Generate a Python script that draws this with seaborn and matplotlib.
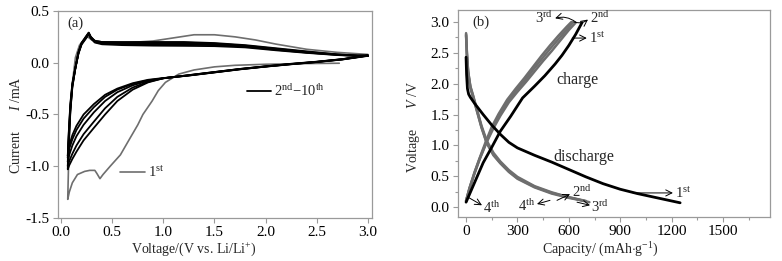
import numpy as np
import pandas as pd
import matplotlib
matplotlib.use('Agg')
import matplotlib.pyplot as plt
import seaborn as sns

#------------------------------------------------------------------------------
# DATA
#------------------------------------------------------------------------------

# (a) cyclic voltammetry: cathodic sweep grid and anodic sweep grid (V)
cv_v_dn = [3.0, 2.75, 2.5, 2.25, 2.0, 1.75, 1.5, 1.25, 1.0, 0.85, 0.7, 0.55, 0.43, 0.32, 0.22, 0.15, 0.11, 0.08, 0.065]
cv_v_up = [0.065, 0.075, 0.09, 0.11, 0.14, 0.17, 0.2, 0.24, 0.27, 0.29, 0.33, 0.4, 0.6, 0.9, 1.2, 1.5, 1.8, 2.1, 2.4, 2.7, 2.9, 3.0]

# current (mA) of a few of the 2nd-10th cycles
i_dn_2 = [0.07, 0.035, 0.01, -0.01, -0.035, -0.06, -0.09, -0.12, -0.15, -0.19, -0.26, -0.37, -0.5, -0.63, -0.75, -0.86, -0.93, -0.99, -1.03]
i_up_2 = [-1.03, -0.78, -0.48, -0.24, -0.05, 0.1, 0.19, 0.25, 0.29, 0.25, 0.21, 0.2, 0.2, 0.2, 0.2, 0.19, 0.17, 0.14, 0.11, 0.08, 0.07, 0.07]
i_dn_3 = [0.07, 0.034, 0.009, -0.012, -0.035, -0.06, -0.09, -0.12, -0.15, -0.185, -0.24, -0.33, -0.44, -0.57, -0.69, -0.8, -0.88, -0.95, -1.0]
i_up_3 = [-1.0, -0.76, -0.46, -0.23, -0.05, 0.1, 0.19, 0.245, 0.29, 0.25, 0.21, 0.2, 0.195, 0.195, 0.195, 0.185, 0.165, 0.135, 0.105, 0.08, 0.07, 0.07]
i_dn_5 = [0.07, 0.033, 0.008, -0.013, -0.036, -0.062, -0.092, -0.122, -0.15, -0.176, -0.218, -0.285, -0.37, -0.48, -0.6, -0.71, -0.8, -0.89, -0.96]
i_up_5 = [-0.96, -0.72, -0.44, -0.22, -0.05, 0.1, 0.185, 0.24, 0.285, 0.245, 0.205, 0.19, 0.185, 0.185, 0.185, 0.178, 0.16, 0.13, 0.1, 0.078, 0.068, 0.068]
i_dn_7 = [0.068, 0.032, 0.007, -0.014, -0.037, -0.063, -0.093, -0.123, -0.15, -0.17, -0.205, -0.26, -0.33, -0.43, -0.54, -0.65, -0.74, -0.83, -0.92]
i_up_7 = [-0.92, -0.69, -0.42, -0.21, -0.05, 0.09, 0.18, 0.235, 0.28, 0.24, 0.2, 0.185, 0.178, 0.175, 0.175, 0.17, 0.155, 0.125, 0.098, 0.076, 0.066, 0.066]
i_dn_10 = [0.066, 0.031, 0.006, -0.015, -0.038, -0.064, -0.094, -0.124, -0.148, -0.165, -0.198, -0.25, -0.31, -0.4, -0.5, -0.61, -0.7, -0.8, -0.9]
i_up_10 = [-0.9, -0.67, -0.4, -0.2, -0.05, 0.09, 0.175, 0.23, 0.275, 0.235, 0.195, 0.178, 0.17, 0.165, 0.163, 0.16, 0.148, 0.12, 0.095, 0.074, 0.065, 0.065]

# 1st cycle (starts at open circuit ~2.72 V)
c1_v_dn = [2.72, 2.4, 2.0, 1.7, 1.5, 1.3, 1.15, 1.02, 0.95, 0.89, 0.8, 0.75, 0.65, 0.58, 0.48, 0.41, 0.38, 0.35, 0.33, 0.28, 0.23, 0.16, 0.11, 0.08, 0.065]
c1_i_dn = [-0.005, -0.008, -0.015, -0.025, -0.04, -0.07, -0.11, -0.19, -0.27, -0.37, -0.5, -0.6, -0.77, -0.89, -1.0, -1.08, -1.12, -1.07, -1.04, -1.04, -1.05, -1.08, -1.16, -1.25, -1.32]
c1_v_up = [0.065, 0.075, 0.09, 0.11, 0.14, 0.18, 0.22, 0.26, 0.3, 0.4, 0.6, 0.9, 1.1, 1.3, 1.5, 1.7, 1.9, 2.1, 2.4, 2.7, 3.0]
c1_i_up = [-1.32, -0.9, -0.5, -0.2, 0.05, 0.17, 0.22, 0.25, 0.22, 0.2, 0.19, 0.21, 0.24, 0.27, 0.27, 0.25, 0.22, 0.18, 0.13, 0.1, 0.08]

# (b) charge / discharge, capacity (mAh/g) vs voltage (V)
dis1_cap = [0, 3, 8, 15, 25, 50, 100, 150, 200, 250, 300, 400, 500, 600, 700, 800, 900, 1000, 1100, 1200, 1250]
dis1_v = [2.43, 2.15, 1.92, 1.83, 1.78, 1.68, 1.5, 1.33, 1.18, 1.05, 0.96, 0.84, 0.73, 0.61, 0.49, 0.38, 0.29, 0.22, 0.16, 0.1, 0.07]
chg1_cap = [0, 50, 100, 150, 200, 260, 330, 400, 460, 520, 560, 600, 640, 677]
chg1_v = [0.08, 0.4, 0.72, 0.97, 1.23, 1.47, 1.77, 1.96, 2.13, 2.32, 2.46, 2.62, 2.8, 2.99]

dis2_cap = [0, 5, 12, 25, 41, 60, 90, 120, 160, 200, 250, 300, 400, 500, 600, 700]
dis2_v = [2.82, 2.5, 2.2, 1.95, 1.8, 1.6, 1.3, 1.05, 0.85, 0.72, 0.58, 0.47, 0.33, 0.23, 0.16, 0.1]
dis3_cap = [0, 5, 12, 25, 41, 60, 90, 120, 160, 200, 250, 300, 400, 500, 600, 720]
dis3_v = [2.8, 2.48, 2.2, 1.96, 1.81, 1.62, 1.32, 1.08, 0.88, 0.74, 0.6, 0.49, 0.34, 0.24, 0.16, 0.08]
dis4_cap = [0, 5, 12, 25, 41, 60, 90, 120, 160, 200, 250, 300, 400, 500, 600, 690]
dis4_v = [2.78, 2.45, 2.17, 1.93, 1.78, 1.59, 1.29, 1.04, 0.84, 0.71, 0.57, 0.46, 0.32, 0.22, 0.15, 0.1]

chg2_cap = [0, 20, 50, 80, 120, 160, 200, 250, 300, 350, 400, 450, 500, 550, 600, 640]
chg2_v = [0.1, 0.3, 0.55, 0.78, 1.05, 1.28, 1.48, 1.7, 1.87, 2.03, 2.2, 2.37, 2.53, 2.7, 2.87, 2.99]
chg3_cap = [0, 20, 50, 80, 115, 150, 190, 240, 290, 340, 390, 440, 490, 540, 590, 615]
chg3_v = [0.1, 0.31, 0.57, 0.8, 1.06, 1.3, 1.51, 1.74, 1.92, 2.09, 2.27, 2.45, 2.62, 2.78, 2.93, 3.0]
chg4_cap = [0, 20, 50, 80, 118, 155, 195, 245, 295, 345, 395, 445, 495, 545, 595, 625]
chg4_v = [0.1, 0.3, 0.56, 0.79, 1.05, 1.29, 1.5, 1.72, 1.9, 2.06, 2.24, 2.41, 2.58, 2.74, 2.9, 3.0]

#------------------------------------------------------------------------------
# STYLE
#------------------------------------------------------------------------------

sns.set_style('ticks')
plt.rcParams['font.family'] = ['Liberation Serif', 'DejaVu Serif']
plt.rcParams['mathtext.fontset'] = 'custom'
plt.rcParams['mathtext.rm'] = 'Liberation Serif'
plt.rcParams['mathtext.it'] = 'Liberation Serif:italic'
plt.rcParams['font.size'] = 11
plt.rcParams['axes.labelsize'] = 10
plt.rcParams['axes.edgecolor'] = '#9a9a9a'
plt.rcParams['xtick.color'] = '#9a9a9a'
plt.rcParams['ytick.color'] = '#9a9a9a'
plt.rcParams['xtick.labelcolor'] = 'black'
plt.rcParams['ytick.labelcolor'] = 'black'

grey = '#6e6e6e'

fig = plt.figure(figsize=(7.82, 2.61), dpi=100)
ax1 = fig.add_axes([0.0742, 0.1648, 0.4015, 0.7932])
ax2 = fig.add_axes([0.5857, 0.1686, 0.3990, 0.7931])


def curve(ax, x, y, color, lw):
    sns.lineplot(x=np.array(x), y=np.array(y), sort=False, estimator=None,
                 color=color, lw=lw, ax=ax)

#------------------------------------------------------------------------------
# (a) CV
#------------------------------------------------------------------------------

curve(ax1, c1_v_dn + c1_v_up, c1_i_dn + c1_i_up, grey, 1.2)
for dn, up in [(i_dn_2, i_up_2), (i_dn_3, i_up_3), (i_dn_5, i_up_5),
               (i_dn_7, i_up_7), (i_dn_10, i_up_10)]:
    curve(ax1, cv_v_dn + cv_v_up, dn + up, 'black', 1.3)

ax1.set_xlim(-0.03, 3.04)
ax1.set_ylim(-1.5, 0.5)
ax1.set_xticks([0.0, 0.5, 1.0, 1.5, 2.0, 2.5, 3.0])
ax1.set_yticks([-1.5, -1.0, -0.5, 0.0, 0.5])
ax1.xaxis.set_major_formatter(matplotlib.ticker.FormatStrFormatter('%.1f'))
ax1.yaxis.set_major_formatter(matplotlib.ticker.FormatStrFormatter('%.1f'))
ax1.set_xlabel('Voltage/(V vs. Li/Li$^{+}$)')
ax1.set_ylabel('Current      $I$ /mA')
ax1.xaxis.set_label_coords(0.433, -0.11)
ax1.yaxis.set_label_coords(-0.11, 0.45)
ax1.text(0.06, 0.38, '(a)', va='center', fontsize=10.5)

ax1.plot([1.82, 2.05], [-0.27, -0.27], color='black', lw=1.3)
ax1.text(2.08, -0.27, '2$^{\\rm nd}$$-$10$^{\\rm th}$', va='center', fontsize=10.5)
ax1.plot([0.58, 0.82], [-1.056, -1.056], color=grey, lw=1.2)
ax1.text(0.85, -1.056, '1$^{\\rm st}$', va='center', fontsize=10.5)

#------------------------------------------------------------------------------
# (b) charge / discharge
#------------------------------------------------------------------------------

for cap, v in [(dis2_cap, dis2_v), (dis3_cap, dis3_v), (dis4_cap, dis4_v),
               (chg2_cap, chg2_v), (chg3_cap, chg3_v), (chg4_cap, chg4_v)]:
    curve(ax2, cap, v, grey, 1.8)
curve(ax2, dis1_cap, dis1_v, 'black', 2.0)
curve(ax2, chg1_cap, chg1_v, 'black', 2.0)

ax2.set_xlim(-47, 1775)
ax2.set_ylim(-0.16, 3.195)
ax2.set_xticks([0, 300, 600, 900, 1200, 1500])
ax2.set_xticks(np.arange(150, 1800, 300), minor=True)
ax2.set_yticks([0.0, 0.5, 1.0, 1.5, 2.0, 2.5, 3.0])
ax2.set_yticks(np.arange(0.25, 3.2, 0.5), minor=True)
ax2.yaxis.set_major_formatter(matplotlib.ticker.FormatStrFormatter('%.1f'))
ax2.set_xlabel('Capacity/ (mAh$\\cdot$g$^{-1}$)')
ax2.set_ylabel('Voltage      $V$ /V')
ax2.xaxis.set_label_coords(0.455, -0.116)
ax2.yaxis.set_label_coords(-0.115, 0.435)
ax2.text(35, 3.0, '(b)', va='center', fontsize=10.5)
ax2.text(650, 2.06, 'charge', ha='center', va='center', fontsize=11.5)
ax2.text(690, 0.81, 'discharge', ha='center', va='center', fontsize=11.5)

arr = dict(arrowstyle='->', lw=0.7, color='black', shrinkA=0, shrinkB=0)
ax2.text(510, 3.06, '3$^{\\rm rd}$', ha='right', va='center', fontsize=10.5)
ax2.annotate('', xy=(520, 3.06), xytext=(640, 3.0),
             arrowprops=dict(arr, connectionstyle='arc3,rad=0.25'))
ax2.annotate('', xy=(712, 3.04), xytext=(630, 3.0),
             arrowprops=dict(arr, connectionstyle='arc3,rad=0.25'))
ax2.text(722, 3.06, '2$^{\\rm nd}$', va='center', fontsize=10.5)
ax2.annotate('', xy=(705, 2.74), xytext=(620, 2.74), arrowprops=arr)
ax2.text(720, 2.74, '1$^{\\rm st}$', va='center', fontsize=10.5)
ax2.annotate('', xy=(1208, 0.23), xytext=(975, 0.23), arrowprops=arr)
ax2.text(1222, 0.23, '1$^{\\rm st}$', va='center', fontsize=10.5)
ax2.annotate('', xy=(607, 0.21), xytext=(531, 0.11), arrowprops=arr)
ax2.text(620, 0.25, '2$^{\\rm nd}$', va='center', fontsize=10.5)
ax2.annotate('', xy=(414, 0.05), xytext=(490, 0.11), arrowprops=arr)
ax2.text(405, 0.02, '4$^{\\rm th}$', ha='right', va='center', fontsize=10.5)
ax2.annotate('', xy=(724, 0.03), xytext=(648, 0.08), arrowprops=arr)
ax2.text(730, 0.0, '3$^{\\rm rd}$', va='center', fontsize=10.5)
ax2.annotate('', xy=(93, 0.03), xytext=(12, 0.16), arrowprops=arr)
ax2.text(100, -0.02, '4$^{\\rm th}$', va='center', fontsize=10.5)

for ax in (ax1, ax2):
    ax.tick_params(which='major', direction='out', length=3.5, width=0.8, pad=2.5)
    ax.tick_params(which='minor', direction='out', length=2.5, width=0.8)
    for s in ax.spines.values():
        s.set_linewidth(0.9)

fig.savefig('out.png', dpi=100)
plt.close(fig)
